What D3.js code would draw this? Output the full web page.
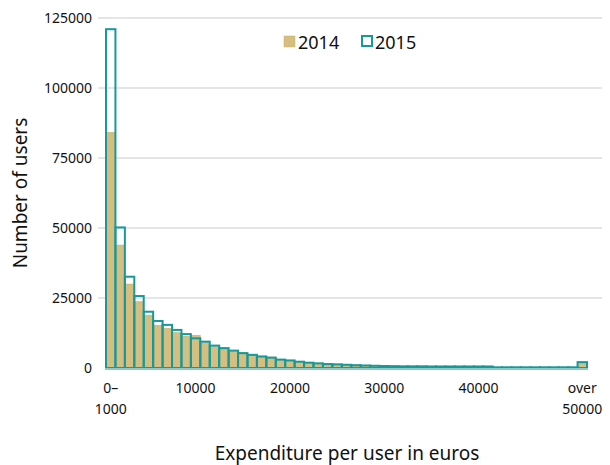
<!DOCTYPE html>
<html>
<head>
<meta charset="utf-8">
<script src="https://cdn.jsdelivr.net/npm/d3@7"></script>
<style>
  body { margin: 0; background: #fff; }
  text { font-family: "Noto Sans", sans-serif; fill: #111; }
</style>
</head>
<body>
<script>
const categories = ['0–1000', '2000', '3000', '4000', '5000', '6000', '7000', '8000', '9000', '10000',
  '11000', '12000', '13000', '14000', '15000', '16000', '17000', '18000', '19000', '20000',
  '21000', '22000', '23000', '24000', '25000', '26000', '27000', '28000', '29000', '30000',
  '31000', '32000', '33000', '34000', '35000', '36000', '37000', '38000', '39000', '40000',
  '41000', '42000', '43000', '44000', '45000', '46000', '47000', '48000', '49000', '50000',
  'over 50000'];

const users2014 = [84200, 43900, 30000, 23700, 18900, 15300, 14200, 12700, 11400, 11700,
  9000, 7600, 6800, 5800, 5600, 4900, 4300, 3900, 3100, 2800,
  2350, 2000, 1750, 1500, 1400, 1200, 1050, 950, 850, 750,
  700, 620, 620, 620, 520, 520, 520, 520, 520, 520,
  520, 230, 230, 230, 230, 230, 230, 230, 230, 230,
  1800];

const users2015 = [121000, 50200, 32600, 25700, 20100, 16800, 15400, 13600, 12100, 10600,
  9400, 8000, 7100, 6200, 5300, 4700, 4100, 3700, 3000, 2700,
  2250, 1900, 1650, 1400, 1300, 1150, 1000, 900, 800, 700,
  650, 600, 600, 600, 550, 550, 550, 550, 550, 550,
  550, 250, 250, 250, 250, 250, 250, 250, 250, 250,
  2100];

const yTicks = [0, 25000, 50000, 75000, 100000, 125000];
const xTicks = ['0–1000', '10000', '20000', '30000', '40000', 'over 50000'];
const seriesNames = ['2014', '2015'];

const w = 610, h = 465;
const tan = '#d5be7f', teal = '#15999a';

const svg = d3.select('body').append('svg')
  .attr('width', w)
  .attr('height', h);

const x = d3.scaleBand()
  .domain(categories)
  .range([106, 587])
  .paddingInner(0)
  .paddingOuter(0);

const y = d3.scaleLinear()
  .domain([0, 125000])
  .range([368, 18]);

// gridlines
svg.append('g')
  .selectAll('line')
  .data(yTicks.slice(1))
  .enter()
  .append('line')
  .attr('x1', 98)
  .attr('x2', 602)
  .attr('y1', d => y(d))
  .attr('y2', d => y(d))
  .attr('stroke', '#dcdcdc')
  .attr('stroke-width', 1.5);

// y axis labels
const yAxis = d3.axisLeft(y).tickValues(yTicks).tickSize(0).tickPadding(0).tickFormat(d3.format('d'));
const yg = svg.append('g')
  .attr('transform', 'translate(92,0)')
  .call(yAxis);
yg.select('.domain').remove();
yg.selectAll('text')
  .attr('font-size', '14px')
  .attr('dy', '0.35em')
  .attr('fill', '#111');

// 2014 filled bars
svg.append('g')
  .selectAll('rect')
  .data(users2014)
  .enter()
  .append('rect')
  .attr('x', (_, i) => x(categories[i]))
  .attr('y', d => y(d))
  .attr('width', x.bandwidth())
  .attr('height', d => y(0) - y(d))
  .attr('fill', tan)
  .attr('stroke', '#c8ae68')
  .attr('stroke-width', 0.5);

// 2015 outlined bars
svg.append('g')
  .selectAll('rect')
  .data(users2015)
  .enter()
  .append('rect')
  .attr('x', (_, i) => x(categories[i]))
  .attr('y', d => y(d))
  .attr('width', x.bandwidth())
  .attr('height', d => y(0) - y(d))
  .attr('fill', 'none')
  .attr('stroke', teal)
  .attr('stroke-width', 2);

// baseline
svg.append('line')
  .attr('x1', 105)
  .attr('x2', 588)
  .attr('y1', 369)
  .attr('y2', 369)
  .attr('stroke', '#8ccaca')
  .attr('stroke-width', 2);

// x tick labels
const xl = svg.append('g')
  .selectAll('text')
  .data(xTicks)
  .enter()
  .append('text')
  .attr('x', d => x(d) + x.bandwidth() / 2)
  .attr('y', 393)
  .attr('text-anchor', 'middle')
  .attr('font-size', '14px');
xl.each(function(d) {
  let parts = [d];
  if (d.indexOf('–') > 0) parts = [d.slice(0, d.indexOf('–') + 1), d.slice(d.indexOf('–') + 1)];
  else if (d.indexOf(' ') > 0) parts = d.split(' ');
  d3.select(this).selectAll('tspan')
    .data(parts)
    .enter()
    .append('tspan')
    .attr('x', x(d) + x.bandwidth() / 2)
    .attr('dy', (_, i) => i === 0 ? 0 : 21)
    .text(p => p);
});

// axis titles
svg.append('text')
  .attr('x', 347)
  .attr('y', 460)
  .attr('text-anchor', 'middle')
  .attr('font-size', '19px')
  .text('Expenditure per user in euros');

svg.append('text')
  .attr('transform', 'translate(27,193) rotate(-90)')
  .attr('text-anchor', 'middle')
  .attr('font-size', '19px')
  .text('Number of users');

// legend
const lg = svg.append('g');
lg.append('rect')
  .attr('x', 284).attr('y', 36).attr('width', 11).attr('height', 11)
  .attr('fill', tan).attr('stroke', '#c8ae68').attr('stroke-width', 0.5);
lg.append('text')
  .attr('x', 298).attr('y', 49).attr('font-size', '18px')
  .text(seriesNames[0]);
lg.append('rect')
  .attr('x', 362).attr('y', 36).attr('width', 10).attr('height', 10)
  .attr('fill', 'none').attr('stroke', teal).attr('stroke-width', 2);
lg.append('text')
  .attr('x', 375).attr('y', 49).attr('font-size', '18px')
  .text(seriesNames[1]);
</script>
</body>
</html>
